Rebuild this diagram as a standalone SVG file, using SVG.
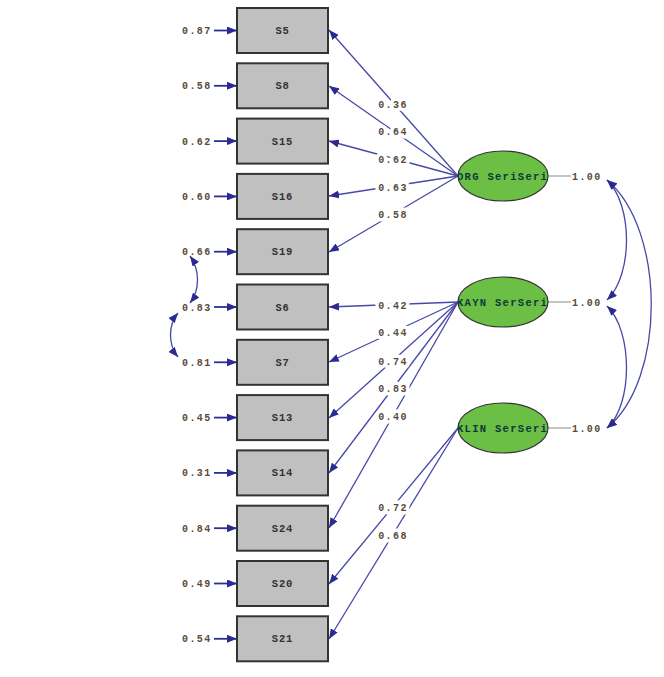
<svg xmlns="http://www.w3.org/2000/svg" width="664" height="677" viewBox="0 0 664 677">
<style>
.box{fill:#c0c0c0;stroke:#333;stroke-width:2}
.bt{font-family:"Liberation Mono",monospace;font-size:10.5px;font-weight:bold;fill:#333;text-anchor:middle;letter-spacing:0.8px}
.num{font-family:"Liberation Mono",monospace;font-size:10px;font-weight:bold;fill:#5a4a3a;letter-spacing:1.4px}
.lab{text-anchor:middle;stroke:#fff;stroke-width:7px;stroke-linejoin:round;paint-order:stroke fill}
.ell{fill:#6cbf45;stroke:#333;stroke-width:1.2}
.et{font-family:"Liberation Mono",monospace;font-size:10.5px;font-weight:bold;fill:#0c3a3a;letter-spacing:1.3px}
.ln{stroke:#4848a8;stroke-width:1.3;fill:none;marker-end:url(#ah)}
.err{stroke:#2e2e98;stroke-width:1.8;fill:none;marker-end:url(#ah)}
.cov{stroke:#4848a8;stroke-width:1.3;fill:none;marker-start:url(#ah2);marker-end:url(#ah)}
.gl{stroke:#b0b0b0;stroke-width:1.5}
</style>
<defs>
<marker id="ah" viewBox="0 0 10 8" refX="10" refY="4" markerWidth="10" markerHeight="8" markerUnits="userSpaceOnUse" orient="auto"><path d="M0,0 L10,4 L0,8 Z" fill="#2a2a90"/></marker>
<marker id="ah2" viewBox="0 0 10 8" refX="10" refY="4" markerWidth="10" markerHeight="8" markerUnits="userSpaceOnUse" orient="auto-start-reverse"><path d="M0,0 L10,4 L0,8 Z" fill="#2a2a90"/></marker>
<clipPath id="c1"><ellipse cx="503" cy="176" rx="45" ry="25"/></clipPath>
<clipPath id="c2"><ellipse cx="503" cy="302" rx="45" ry="25"/></clipPath>
<clipPath id="c3"><ellipse cx="503" cy="428" rx="45" ry="25"/></clipPath>
</defs>
<rect width="664" height="677" fill="#fff"/>
<g id="connectors">
<path class="ln" d="M458,176 L329,30"/>
<path class="ln" d="M458,176 L329,86"/>
<path class="ln" d="M458,176 L329,141"/>
<path class="ln" d="M458,176 L329,196"/>
<path class="ln" d="M458,176 L329,252"/>
<path class="ln" d="M458,302 L329,307"/>
<path class="ln" d="M458,302 L329,362"/>
<path class="ln" d="M458,302 L329,418"/>
<path class="ln" d="M458,302 L329,473"/>
<path class="ln" d="M458,302 L329,528"/>
<path class="ln" d="M458,428 L329,584"/>
<path class="ln" d="M458,428 L329,639"/>
<path class="err" d="M214,30.5 L237,30.5"/>
<path class="err" d="M214,85.8 L237,85.8"/>
<path class="err" d="M214,141.1 L237,141.1"/>
<path class="err" d="M214,196.4 L237,196.4"/>
<path class="err" d="M214,251.7 L237,251.7"/>
<path class="err" d="M214,307 L237,307"/>
<path class="err" d="M214,362.3 L237,362.3"/>
<path class="err" d="M214,417.6 L237,417.6"/>
<path class="err" d="M214,472.9 L237,472.9"/>
<path class="err" d="M214,528.2 L237,528.2"/>
<path class="err" d="M214,583.5 L237,583.5"/>
<path class="err" d="M214,638.8 L237,638.8"/>
<line class="gl" x1="548" y1="176" x2="571" y2="176"/>
<line class="gl" x1="548" y1="302" x2="571" y2="302"/>
<line class="gl" x1="548" y1="428" x2="571" y2="428"/>
<path class="cov" d="M607,180 C633,205 633,275 607,300"/>
<path class="cov" d="M607,306 C633,331 633,405 607,428"/>
<path class="cov" d="M607,180 C666,230 666,380 607,428"/>
<path class="cov" d="M190,256 C200,270 200,290 190,303"/>
<path class="cov" d="M178,313 C168,325 168,345 178,357"/>
<text class="num lab" x="393" y="108">0.36</text>
<text class="num lab" x="393" y="135">0.64</text>
<text class="num lab" x="393" y="163">0.62</text>
<text class="num lab" x="393" y="191">0.63</text>
<text class="num lab" x="393" y="218">0.58</text>
<text class="num lab" x="393" y="309">0.42</text>
<text class="num lab" x="393" y="336">0.44</text>
<text class="num lab" x="393" y="365">0.74</text>
<text class="num lab" x="393" y="392">0.83</text>
<text class="num lab" x="393" y="420">0.40</text>
<text class="num lab" x="393" y="511">0.72</text>
<text class="num lab" x="393" y="539">0.68</text>
<text class="num" x="572" y="180">1.00</text>
<text class="num" x="572" y="306">1.00</text>
<text class="num" x="572" y="432">1.00</text>
</g>
<g id="errors">
<text class="num" x="182" y="34">0.87</text>
<text class="num" x="182" y="89">0.58</text>
<text class="num" x="182" y="145">0.62</text>
<text class="num" x="182" y="200">0.60</text>
<text class="num" x="182" y="255">0.66</text>
<text class="num" x="182" y="311">0.83</text>
<text class="num" x="182" y="366">0.81</text>
<text class="num" x="182" y="421">0.45</text>
<text class="num" x="182" y="476">0.31</text>
<text class="num" x="182" y="532">0.84</text>
<text class="num" x="182" y="587">0.49</text>
<text class="num" x="182" y="642">0.54</text>
</g>
<g id="S5"><rect class="box" x="237" y="8" width="91" height="45"/><text class="bt" x="282.5" y="34">S5</text></g>
<g id="S8"><rect class="box" x="237" y="63.3" width="91" height="45"/><text class="bt" x="282.5" y="89.3">S8</text></g>
<g id="S15"><rect class="box" x="237" y="118.6" width="91" height="45"/><text class="bt" x="282.5" y="144.6">S15</text></g>
<g id="S16"><rect class="box" x="237" y="173.9" width="91" height="45"/><text class="bt" x="282.5" y="199.9">S16</text></g>
<g id="S19"><rect class="box" x="237" y="229.2" width="91" height="45"/><text class="bt" x="282.5" y="255.2">S19</text></g>
<g id="S6"><rect class="box" x="237" y="284.5" width="91" height="45"/><text class="bt" x="282.5" y="310.5">S6</text></g>
<g id="S7"><rect class="box" x="237" y="339.8" width="91" height="45"/><text class="bt" x="282.5" y="365.8">S7</text></g>
<g id="S13"><rect class="box" x="237" y="395.1" width="91" height="45"/><text class="bt" x="282.5" y="421.1">S13</text></g>
<g id="S14"><rect class="box" x="237" y="450.4" width="91" height="45"/><text class="bt" x="282.5" y="476.4">S14</text></g>
<g id="S24"><rect class="box" x="237" y="505.7" width="91" height="45"/><text class="bt" x="282.5" y="531.7">S24</text></g>
<g id="S20"><rect class="box" x="237" y="561" width="91" height="45"/><text class="bt" x="282.5" y="587">S20</text></g>
<g id="S21"><rect class="box" x="237" y="616.3" width="91" height="45"/><text class="bt" x="282.5" y="642.3">S21</text></g>
<g id="ORG"><ellipse class="ell" cx="503" cy="176" rx="45" ry="25"/><text class="et" x="457" y="180" clip-path="url(#c1)">ORG SeriSeri</text></g>
<g id="KAYN"><ellipse class="ell" cx="503" cy="302" rx="45" ry="25"/><text class="et" x="457" y="306" clip-path="url(#c2)">KAYN SerSeri</text></g>
<g id="KLIN"><ellipse class="ell" cx="503" cy="428" rx="45" ry="25"/><text class="et" x="457" y="432" clip-path="url(#c3)">KLIN SerSeri</text></g>
</svg>
